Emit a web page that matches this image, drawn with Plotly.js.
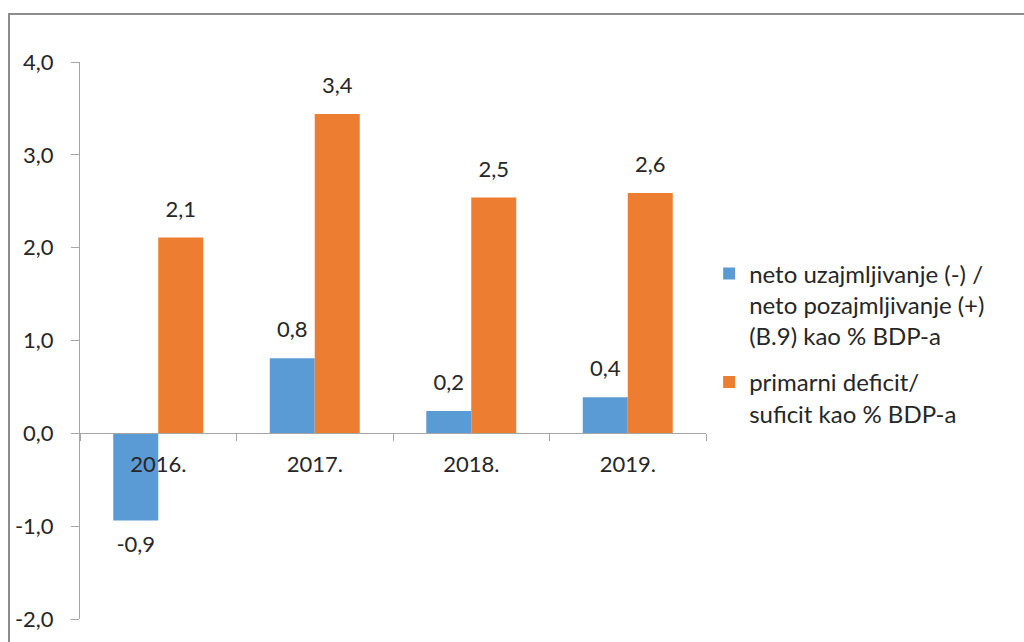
<!DOCTYPE html>
<html>
<head>
<meta charset="utf-8">
<script src="https://cdn.plot.ly/plotly-3.0.1.min.js"></script>
<style>html,body{margin:0;padding:0;background:#fff;}#chart{width:1024px;height:642px;}</style>
</head>
<body>
<div id="chart"></div>
<script>
const categories = ['2016.', '2017.', '2018.', '2019.'];
const netoValues = [-0.94, 0.81, 0.24, 0.39];
const primarniValues = [2.11, 3.44, 2.54, 2.59];
const seriesNames = [
  'neto uzajmljivanje (-) /<br>neto pozajmljivanje (+)<br>(B.9) kao % BDP-a',
  'primarni deficit/<br>suficit kao % BDP-a'
];
const yTicks = [-2, -1, 0, 1, 2, 3, 4];

const FONT = 'Lato, "Open Sans", sans-serif';
const TXT = '#262626';
const AX = '#A6A6A6';
const COLORS = ['#5B9BD5', '#ED7D31'];

const fmt = v => v.toFixed(1).replace('.', ',');

const series = [netoValues, primarniValues];
const traces = [];
series.forEach((vals, i) => {
  traces.push({type: 'bar', name: seriesNames[i], x: categories, y: vals,
    marker: {color: COLORS[i]}, offsetgroup: String(i), legendgroup: 'g' + i,
    hoverinfo: 'skip'});
});
series.forEach((vals, i) => {
  traces.push({type: 'scatter', mode: 'markers+text', x: categories, y: vals,
    text: vals.map(fmt),
    textposition: vals.map(v => v < 0 ? 'bottom center' : 'top center'),
    marker: {size: 23, opacity: 0, color: COLORS[i]},
    textfont: {family: FONT, size: 22, color: TXT},
    cliponaxis: false, showlegend: false, hoverinfo: 'skip', offsetgroup: String(i)});
});

const layout = {
  width: 1024, height: 642,
  margin: {l: 80, r: 318, t: 62, b: 23, pad: 0},
  paper_bgcolor: '#fff', plot_bgcolor: '#fff',
  separators: ',.',
  font: {family: FONT, size: 22, color: TXT},
  barmode: 'group', bargap: 0.425, bargroupgap: 0,
  scattermode: 'group', scattergap: 0.425,
  showlegend: true,
  legend: {x: 1.005, xanchor: 'left', y: 0.66, yanchor: 'top', valign: 'top',
           font: {family: FONT, size: 24, color: TXT}, tracegroupgap: 12,
           bgcolor: 'rgba(0,0,0,0)'},
  xaxis: {type: 'category', anchor: 'free', position: 1/3,
          showline: true, linecolor: AX, linewidth: 1,
          ticks: 'outside', tickson: 'boundaries', ticklen: 7, tickcolor: AX,
          ticklabelstandoff: 11, showgrid: false, zeroline: false,
          tickfont: {family: FONT, size: 22, color: TXT}},
  yaxis: {range: [-2, 4], tickvals: yTicks, ticktext: yTicks.map(fmt),
          showline: true, linecolor: AX, linewidth: 1,
          ticks: 'outside', ticklen: 8, tickcolor: AX,
          ticklabelstandoff: 13, showgrid: false, zeroline: false,
          tickfont: {family: FONT, size: 22, color: TXT}},
  shapes: [{type: 'rect', xref: 'paper', yref: 'paper',
            x0: -0.1134, x1: 1.55, y0: 1.0862, y1: -0.1,
            line: {color: '#8C8C8C', width: 2}, fillcolor: 'rgba(0,0,0,0)', layer: 'below'}]
};

Plotly.newPlot('chart', traces, layout, {displayModeBar: false, staticPlot: true});
</script>
</body>
</html>
